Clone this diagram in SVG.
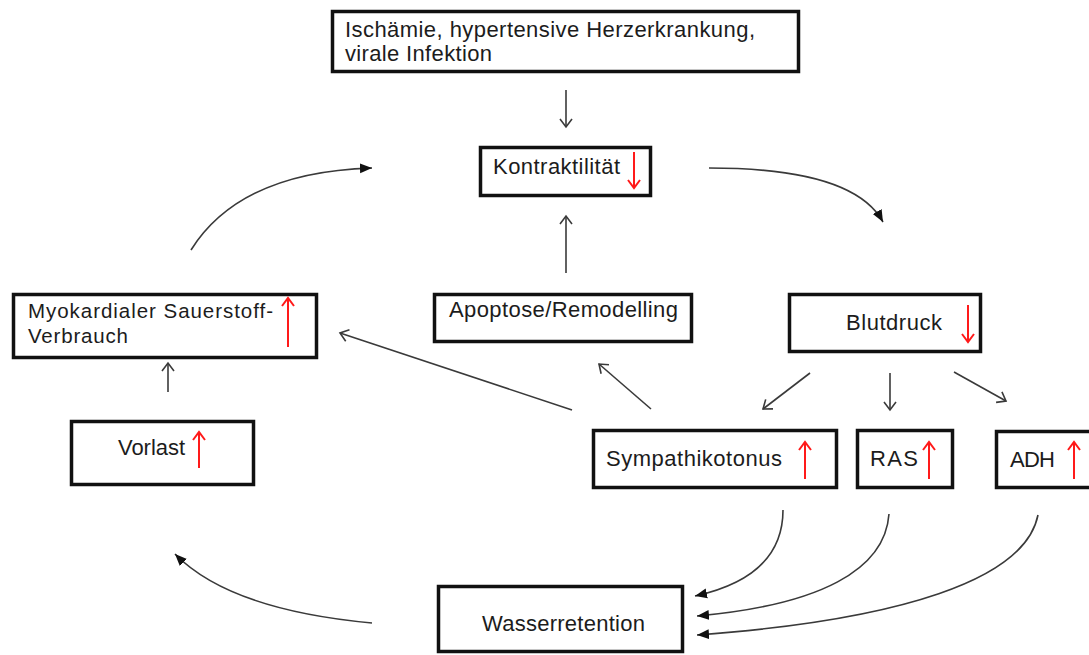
<svg xmlns="http://www.w3.org/2000/svg" width="1089" height="655" viewBox="0 0 1089 655">
<style>
.box{fill:#fff;stroke:#111;stroke-width:3.5}
.t{font-family:"Liberation Sans",Arial,sans-serif;font-size:22px;fill:#1c1c1c}
.s{font-size:20.5px}
.ln{fill:none;stroke:#3a3a3a;stroke-width:1.6}
.red{fill:none;stroke:#ff1a1a;stroke-width:2}
</style>
<defs>
<marker id="open" markerUnits="userSpaceOnUse" markerWidth="14" markerHeight="14" refX="12" refY="7" orient="auto">
<path d="M4,1 L12,7 L4,13" fill="none" stroke="#3a3a3a" stroke-width="1.6"/>
</marker>
<marker id="openr" markerUnits="userSpaceOnUse" markerWidth="14" markerHeight="14" refX="12" refY="7" orient="auto">
<path d="M4,1 L12,7 L4,13" fill="none" stroke="#ff1a1a" stroke-width="2"/>
</marker>
<marker id="fill" markerUnits="userSpaceOnUse" markerWidth="14" markerHeight="12" refX="12" refY="6" orient="auto">
<path d="M0,1 L12,6 L0,11 Z" fill="#111"/>
</marker>
</defs>

<g id="connectors">
<line class="ln" x1="566" y1="90" x2="566" y2="127" marker-end="url(#open)"/>
<line class="ln" x1="566" y1="273" x2="566" y2="216" marker-end="url(#open)"/>
<line class="ln" x1="168" y1="392" x2="168" y2="363" marker-end="url(#open)"/>
<line class="ln" x1="572" y1="410" x2="340" y2="333" marker-end="url(#open)"/>
<line class="ln" x1="651" y1="409" x2="599" y2="364" marker-end="url(#open)"/>
<line class="ln" x1="810" y1="373" x2="763" y2="409" marker-end="url(#open)"/>
<line class="ln" x1="890" y1="373" x2="890" y2="410" marker-end="url(#open)"/>
<line class="ln" x1="954" y1="372" x2="1006" y2="401" marker-end="url(#open)"/>
<path class="ln" d="M191,250 Q240,172 372,168" marker-end="url(#fill)"/>
<path class="ln" d="M709,168 C790,168 860,180 883,222" marker-end="url(#fill)"/>
<path class="ln" d="M372,623 Q230,610 175,554" marker-end="url(#fill)"/>
<path class="ln" d="M783,510 C783,560 745,585 695,596" marker-end="url(#fill)"/>
<path class="ln" d="M889,514 C885,570 820,605 697,616" marker-end="url(#fill)"/>
<path class="ln" d="M1038,515 C1025,580 900,620 697,635" marker-end="url(#fill)"/>
</g>

<g id="n-ursache">
<rect class="box" x="332.5" y="11.5" width="466" height="60"/>
<text class="t" x="345" y="37" textLength="410" lengthAdjust="spacing">Ischämie, hypertensive Herzerkrankung,</text>
<text class="t" x="345" y="61" textLength="147" lengthAdjust="spacing">virale Infektion</text>
</g>

<g id="n-kontraktilitaet">
<rect class="box" x="480.5" y="147.5" width="170" height="48"/>
<text class="t" x="493" y="174" textLength="127" lengthAdjust="spacing">Kontraktilität</text>
<line class="red" x1="634" y1="152" x2="634" y2="188" marker-end="url(#openr)"/>
</g>

<g id="n-myokard">
<rect class="box" x="13.5" y="294.5" width="303" height="63"/>
<text class="t s" x="28" y="318" textLength="245" lengthAdjust="spacing">Myokardialer Sauerstoff-</text>
<text class="t s" x="28" y="343" textLength="100" lengthAdjust="spacing">Verbrauch</text>
<line class="red" x1="288" y1="347" x2="288" y2="298" marker-end="url(#openr)"/>
</g>

<g id="n-vorlast">
<rect class="box" x="71.5" y="421.5" width="182" height="63"/>
<text class="t" x="118" y="455" textLength="67" lengthAdjust="spacing">Vorlast</text>
<line class="red" x1="199" y1="468" x2="199" y2="432" marker-end="url(#openr)"/>
</g>

<g id="n-apoptose">
<rect class="box" x="434.5" y="294.5" width="257" height="47"/>
<text class="t" x="449" y="317" textLength="229" lengthAdjust="spacing">Apoptose/Remodelling</text>
</g>

<g id="n-blutdruck">
<rect class="box" x="789.5" y="294.5" width="191" height="57"/>
<text class="t" x="846" y="330" textLength="96" lengthAdjust="spacing">Blutdruck</text>
<line class="red" x1="968" y1="305" x2="968" y2="342" marker-end="url(#openr)"/>
</g>

<g id="n-sympathikotonus">
<rect class="box" x="593.5" y="430.5" width="243" height="57"/>
<text class="t" x="606" y="466" textLength="176" lengthAdjust="spacing">Sympathikotonus</text>
<line class="red" x1="805" y1="479" x2="805" y2="442" marker-end="url(#openr)"/>
</g>

<g id="n-ras">
<rect class="box" x="857.5" y="430.5" width="95" height="57"/>
<text class="t" x="870" y="466" textLength="48" lengthAdjust="spacing">RAS</text>
<line class="red" x1="929" y1="479" x2="929" y2="442" marker-end="url(#openr)"/>
</g>

<g id="n-adh">
<rect class="box" x="996.5" y="431.5" width="100" height="56"/>
<text class="t" x="1010" y="467" textLength="45" lengthAdjust="spacing">ADH</text>
<line class="red" x1="1074" y1="479" x2="1074" y2="442" marker-end="url(#openr)"/>
</g>

<g id="n-wasserretention">
<rect class="box" x="438.5" y="586.5" width="244" height="65"/>
<text class="t" x="482" y="631" textLength="163" lengthAdjust="spacing">Wasserretention</text>
</g>
</svg>
